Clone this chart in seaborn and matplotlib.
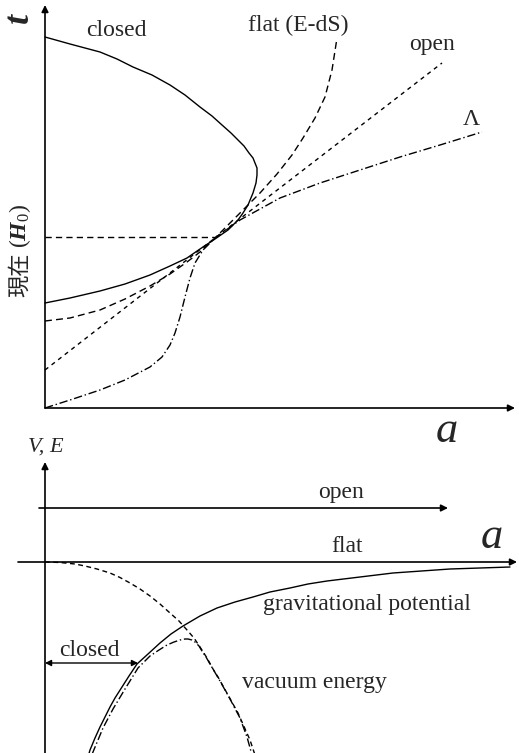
import matplotlib
matplotlib.use("Agg")
import matplotlib.pyplot as plt
import seaborn as sns

sns.set_theme(style="white")
plt.rcParams['font.family'] = ['Liberation Serif', 'Noto Sans CJK JP', 'DejaVu Sans']
plt.rcParams['mathtext.fontset'] = 'custom'
plt.rcParams['mathtext.rm'] = 'Liberation Serif'
plt.rcParams['mathtext.it'] = 'Liberation Serif:italic'
plt.rcParams['mathtext.bf'] = 'Liberation Serif:bold:italic'

# ---------------- top panel: t versus a ----------------
closed_a = [0.00, 0.25, 0.55, 0.72, 0.88, 1.07, 1.25, 1.40, 1.55, 1.67, 1.77, 1.86,
            1.93, 1.99, 2.04, 2.08, 2.10, 2.12, 2.12, 2.11, 2.08, 2.03, 1.98, 1.93,
            1.83, 1.70, 1.55, 1.42, 1.25, 1.05, 0.80, 0.55, 0.25, 0.00]
closed_t = [3.71, 3.64, 3.56, 3.49, 3.41, 3.33, 3.23, 3.13, 3.01, 2.92, 2.83, 2.75,
            2.68, 2.62, 2.55, 2.50, 2.45, 2.40, 2.33, 2.25, 2.15, 2.03, 1.95, 1.88,
            1.78, 1.69, 1.59, 1.50, 1.42, 1.33, 1.24, 1.17, 1.10, 1.05]

flat_a = [0.00, 0.25, 0.55, 0.80, 1.05, 1.25, 1.42, 1.55, 1.70, 1.85, 2.00, 2.15,
          2.32, 2.47, 2.58, 2.70, 2.80, 2.87, 2.92]
flat_t = [0.87, 0.90, 0.98, 1.09, 1.22, 1.34, 1.46, 1.56, 1.70, 1.85, 2.00, 2.15,
          2.34, 2.53, 2.70, 2.90, 3.11, 3.38, 3.70]

open_a = [0.00, 1.70, 3.97]
open_t = [0.38, 1.70, 3.45]

lam_a = [0.00, 0.25, 0.55, 0.80, 1.05, 1.17, 1.25, 1.30, 1.35, 1.40, 1.45, 1.50,
         1.58, 1.70, 1.95, 2.35, 2.75, 3.15, 3.55, 3.95, 4.37]
lam_t = [0.00, 0.08, 0.18, 0.28, 0.41, 0.51, 0.63, 0.75, 0.91, 1.11, 1.30, 1.45,
         1.58, 1.70, 1.88, 2.10, 2.25, 2.38, 2.51, 2.63, 2.76]

present_a = [0.00, 1.70]
present_t = [1.71, 1.71]

# ---------------- bottom panel: V, E versus a ----------------
grav_a = [0.43, 0.45, 0.50, 0.55, 0.60, 0.65, 0.70, 0.77, 0.84, 0.92, 1.03, 1.15,
          1.26, 1.38, 1.55, 1.72, 1.90, 2.08, 2.25, 2.45, 2.63, 2.82, 3.15, 3.48,
          4.05, 4.65]
grav_E = [-1.95, -1.88, -1.76, -1.65, -1.55, -1.45, -1.36, -1.25, -1.14, -1.02,
          -0.92, -0.81, -0.72, -0.64, -0.54, -0.46, -0.40, -0.35, -0.30, -0.26,
          -0.22, -0.19, -0.15, -0.11, -0.07, -0.05]

vac_a = [0.00, 0.15, 0.30, 0.40, 0.52, 0.65, 0.75, 0.85, 0.95, 1.05, 1.15, 1.25,
         1.34, 1.42, 1.49, 1.55, 1.62, 1.68, 1.73, 1.78, 1.83, 1.88, 1.93, 1.97,
         2.01, 2.05, 2.10]
vac_E = [0.00, -0.005, -0.02, -0.04, -0.07, -0.11, -0.155, -0.21, -0.27, -0.34,
         -0.42, -0.51, -0.59, -0.68, -0.76, -0.85, -0.96, -1.07, -1.15, -1.24,
         -1.33, -1.42, -1.51, -1.60, -1.69, -1.78, -1.93]

tot_a = [0.46, 0.48, 0.58, 0.68, 0.80, 0.93, 1.05, 1.14, 1.22, 1.29, 1.35, 1.40,
         1.43, 1.47, 1.50, 1.54, 1.57, 1.61, 1.65, 1.75, 1.85, 1.95, 2.02, 2.07]
tot_E = [-1.95, -1.90, -1.66, -1.47, -1.27, -1.06, -0.94, -0.88, -0.83, -0.80,
         -0.78, -0.77, -0.77, -0.78, -0.80, -0.84, -0.89, -0.95, -1.02, -1.19,
         -1.37, -1.56, -1.75, -1.93]

open_level = 0.54
flat_level = 0.0
closed_level = -1.01
closed_turn = 0.93

fig = plt.figure(figsize=(5.19, 7.53), dpi=100)
ax1 = fig.add_axes([0, 333 / 753, 1, 420 / 753])
ax2 = fig.add_axes([0, 0, 1, 333 / 753])

for ax in (ax1, ax2):
    ax.set_xlim(-0.45, 4.74)
    ax.set_axis_off()
ax1.set_ylim(-0.12, 4.08)
ax2.set_ylim(-1.91, 1.42)

LW = 1.0
k = dict(sort=False, estimator=None, color='black', lw=LW, legend=False)

sns.lineplot(x=closed_a, y=closed_t, ax=ax1, linestyle='-', **k)
sns.lineplot(x=flat_a, y=flat_t, ax=ax1, linestyle=(0, (5, 3)), **k)
sns.lineplot(x=open_a, y=open_t, ax=ax1, linestyle=(0, (3, 3)), **k)
sns.lineplot(x=lam_a, y=lam_t, ax=ax1, linestyle=(0, (6, 2, 1, 2)), **k)
sns.lineplot(x=present_a, y=present_t, ax=ax1, linestyle=(0, (4.5, 3)), **k)

sns.lineplot(x=grav_a, y=grav_E, ax=ax2, linestyle='-', **k)
sns.lineplot(x=vac_a, y=vac_E, ax=ax2, linestyle=(0, (3.5, 2.5)), **k)
sns.lineplot(x=tot_a, y=tot_E, ax=ax2, linestyle=(0, (6, 2, 1, 2)), **k)

for ax in (ax1, ax2):
    for ln in ax.get_lines():
        ln.set_solid_joinstyle('round')
        ln.set_dash_joinstyle('round')

arr = dict(arrowstyle='-|>', lw=1.2, color='black', mutation_scale=10,
           shrinkA=0, shrinkB=0)
arr2 = dict(arrowstyle='<|-|>', lw=1.0, color='black', mutation_scale=9,
            shrinkA=0, shrinkB=0)

# top axes
ax1.annotate('', xy=(4.70, 0), xytext=(0, 0), arrowprops=arr)
ax1.annotate('', xy=(0, 4.03), xytext=(0, 0), arrowprops=arr)
# bottom axes
ax2.annotate('', xy=(0, 1.00), xytext=(0, -1.95), arrowprops=arr)
ax2.annotate('', xy=(4.03, open_level), xytext=(-0.06, open_level), arrowprops=arr)
ax2.annotate('', xy=(4.72, flat_level), xytext=(-0.27, flat_level), arrowprops=arr)
ax2.annotate('', xy=(closed_turn, closed_level), xytext=(0, closed_level), arrowprops=arr2)

FS = 17
ax1.text(0.71, 3.72, 'closed', fontsize=FS, ha='center', va='baseline')
ax1.text(2.53, 3.77, 'flat (E-dS)', fontsize=FS, ha='center', va='baseline')
ax1.text(3.87, 3.58, 'open', fontsize=FS, ha='center', va='baseline')
ax1.text(4.26, 2.83, 'Λ', fontsize=FS, ha='center', va='baseline')
ax1.text(-0.26, 3.90, 't', fontsize=26, fontweight='bold', fontstyle='italic',
         rotation=90, ha='center', va='center')
ax1.text(-0.25, 1.11, '現在', fontsize=16, rotation=90, ha='center', va='bottom',
         family=['Noto Sans CJK JP', 'DejaVu Sans'])
ax1.text(-0.25, 1.60, r'($\mathbf{H}_0$)', fontsize=FS, rotation=90,
         ha='center', va='bottom')
ax1.text(4.02, -0.34, 'a', fontsize=32, fontstyle='italic', ha='center', va='baseline')

ax2.text(0.01, 1.10, 'V, E', fontsize=16, fontstyle='italic', ha='center', va='baseline')
ax2.text(2.96, 0.64, 'open', fontsize=FS, ha='center', va='baseline')
ax2.text(3.02, 0.10, 'flat', fontsize=FS, ha='center', va='baseline')
ax2.text(4.47, 0.14, 'a', fontsize=32, fontstyle='italic', ha='center', va='baseline')
ax2.text(3.22, -0.48, 'gravitational potential', fontsize=FS, ha='center', va='baseline')
ax2.text(2.69, -1.26, 'vacuum energy', fontsize=FS, ha='center', va='baseline')
ax2.text(0.44, -0.94, 'closed', fontsize=FS, ha='center', va='baseline')

fig.savefig('out.png', dpi=100)
